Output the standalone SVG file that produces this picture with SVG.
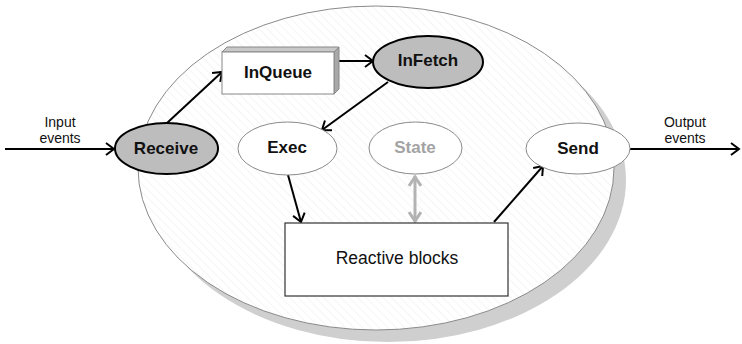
<svg xmlns="http://www.w3.org/2000/svg" width="742" height="344" viewBox="0 0 742 344">
<style>
.lbl{font-family:"Liberation Sans",Arial,sans-serif;font-weight:bold;font-size:17px;text-anchor:middle;fill:#111}
.small{font-family:"Liberation Sans",Arial,sans-serif;font-size:14px;text-anchor:middle;fill:#111}
.conn{stroke:#000;stroke-width:2;fill:none}
.dark{fill:#bdbdbd;stroke:#000;stroke-width:2}
.light{fill:#fff;stroke:#8a8a8a;stroke-width:1}
</style>
<defs>
<pattern id="hatch" width="6" height="6" patternUnits="userSpaceOnUse" patternTransform="rotate(-45)">
<rect width="6" height="6" fill="#fff"/>
<line x1="0" y1="0" x2="0" y2="6" stroke="#ebebeb" stroke-width="1"/>
</pattern>
<marker id="arr" markerWidth="12" markerHeight="14" refX="10" refY="7" orient="auto" markerUnits="userSpaceOnUse">
<path d="M2,1 L10,7 L2,13" fill="none" stroke="#000" stroke-width="2"/>
</marker>
<marker id="garr" markerWidth="14" markerHeight="14" refX="12" refY="7" orient="auto-start-reverse" markerUnits="userSpaceOnUse">
<path d="M2,1 L11,7 L2,13" fill="none" stroke="#b3b3b3" stroke-width="3"/>
</marker>
</defs>
<g id="system">
<ellipse cx="388" cy="180" rx="238" ry="162" fill="#cfcfcf"/>
<ellipse cx="376" cy="168" rx="238" ry="162" fill="url(#hatch)" stroke="#8a8a8a" stroke-width="1"/>
</g>
<g id="connectors">
<line class="conn" x1="5" y1="149" x2="114" y2="149" marker-end="url(#arr)"/>
<line class="conn" x1="167" y1="123" x2="222" y2="72" marker-end="url(#arr)"/>
<line class="conn" x1="339" y1="61" x2="373" y2="61" marker-end="url(#arr)"/>
<line class="conn" x1="388" y1="82" x2="322" y2="130" marker-end="url(#arr)"/>
<line class="conn" x1="288" y1="175" x2="301" y2="222" marker-end="url(#arr)"/>
<line x1="415" y1="176" x2="415" y2="222" stroke="#b3b3b3" stroke-width="3" marker-start="url(#garr)" marker-end="url(#garr)"/>
<line class="conn" x1="494" y1="222" x2="543" y2="166" marker-end="url(#arr)"/>
<line class="conn" x1="630" y1="149" x2="739" y2="149" marker-end="url(#arr)"/>
</g>
<g id="input-label">
<text class="small" x="60" y="127">Input</text>
<text class="small" x="60" y="143">events</text>
</g>
<g id="output-label">
<text class="small" x="685" y="127">Output</text>
<text class="small" x="685" y="143">events</text>
</g>
<g id="receive">
<ellipse class="dark" cx="166.5" cy="148.5" rx="51.5" ry="25.5"/>
<text class="lbl" x="166" y="154">Receive</text>
</g>
<g id="inqueue">
<polygon points="222,52 227,47 339,47 334,52" fill="#c8c8c8" stroke="#888" stroke-width="1"/>
<polygon points="334,52 339,47 339,89 334,94" fill="#a8a8a8" stroke="#888" stroke-width="1"/>
<rect x="222" y="52" width="112" height="42" fill="#fff" stroke="#888" stroke-width="1"/>
<text class="lbl" x="278" y="78">InQueue</text>
</g>
<g id="infetch">
<ellipse class="dark" cx="428" cy="62" rx="55" ry="26"/>
<text class="lbl" x="428" y="66">InFetch</text>
</g>
<g id="exec">
<ellipse class="light" cx="287.5" cy="148.5" rx="49.5" ry="26.5"/>
<text class="lbl" x="287" y="153">Exec</text>
</g>
<g id="state">
<ellipse class="light" cx="415.5" cy="148" rx="46.5" ry="26"/>
<text class="lbl" x="415" y="153" style="fill:#a3a3a3">State</text>
</g>
<g id="send">
<ellipse class="light" cx="578" cy="148.5" rx="52" ry="25.5"/>
<text class="lbl" x="578" y="154">Send</text>
</g>
<g id="reactive">
<rect x="285" y="223" width="223" height="73" fill="#fff" stroke="#333" stroke-width="1.2"/>
<text class="small" x="397" y="264" style="font-size:17.5px">Reactive blocks</text>
</g>
</svg>
